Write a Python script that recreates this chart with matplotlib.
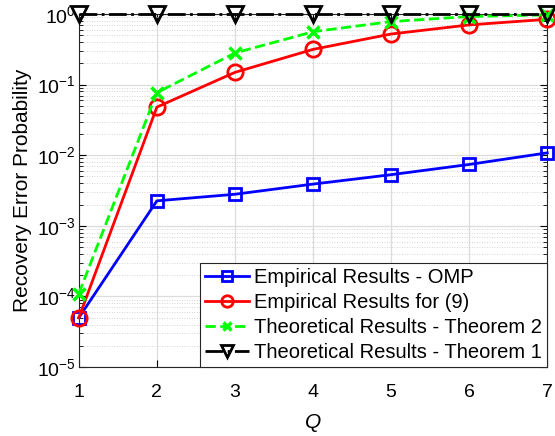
import numpy as np
import matplotlib
matplotlib.use("Agg")
import matplotlib.pyplot as plt
from matplotlib.ticker import LogLocator, FixedLocator

plt.rcParams['font.family'] = ['Liberation Sans', 'DejaVu Sans']
plt.rcParams['mathtext.fontset'] = 'custom'
plt.rcParams['mathtext.rm'] = 'Liberation Sans'
plt.rcParams['mathtext.it'] = 'Liberation Sans:italic'

Q = [1, 2, 3, 4, 5, 6, 7]
omp = [5.0e-5, 2.26e-3, 2.8e-3, 3.9e-3, 5.3e-3, 7.4e-3, 1.08e-2]
emp9 = [5.0e-5, 0.048, 0.149, 0.315, 0.52, 0.70, 0.84]
thm2 = [1.1e-4, 0.077, 0.28, 0.56, 0.78, 0.92, 0.97]
thm1 = [1, 1, 1, 1, 1, 1, 1]

fig = plt.figure(figsize=(5.55, 4.36), dpi=100)
ax = fig.add_axes([0.142, 0.158, 0.844, 0.810])

ax.semilogy(Q, omp, '-s', color='#0000ff', lw=2, ms=9, mfc='none', mew=2,
            label='Empirical Results - OMP', clip_on=False, zorder=3)
ax.semilogy(Q, emp9, '-o', color='#ff0000', lw=2, ms=11, mfc='none', mew=2,
            label='Empirical Results for (9)', clip_on=False, zorder=3)
ax.semilogy(Q, thm2, '--x', color='#00ff00', lw=2, ms=8, mew=2.5,
            label='Theoretical Results - Theorem 2', clip_on=False, zorder=3)
ax.semilogy(Q, thm1, '-.v', color='black', lw=2, ms=11, mfc='none', mew=2,
            label='Theoretical Results - Theorem 1', clip_on=False, zorder=3)

ax.set_xlim(1, 7)
ax.set_ylim(1e-5, 1)
ax.xaxis.set_major_locator(FixedLocator(Q))
ax.yaxis.set_major_locator(LogLocator(base=10, numticks=10))
ax.yaxis.set_minor_locator(LogLocator(base=10, subs=np.arange(2, 10), numticks=10))

ax.grid(True, which='major', color='#dcdcdc', lw=0.9, ls='-')
ax.grid(True, which='minor', color='#c8c8c8', lw=0.6, ls=(0, (1, 2)))
ax.set_axisbelow(True)

ax.tick_params(which='both', direction='in', top=True, right=True, labelsize=14)
ax.tick_params(axis='x', pad=12)
ax.tick_params(axis='y', pad=2)
ax.tick_params(which='major', length=5)
ax.tick_params(which='minor', length=3)
for s in ax.spines.values():
    s.set_color('#262626')
    s.set_linewidth(0.8)

ax.set_xlabel('$\\mathit{Q}$', fontsize=15, labelpad=8)
ax.set_ylabel('Recovery Error Probability', fontsize=15, labelpad=4)

leg = ax.legend(loc='lower right', fontsize=14.5, fancybox=False, framealpha=1,
                edgecolor='#262626', borderpad=0.25, labelspacing=0.3,
                handlelength=2.2, handletextpad=0.25, borderaxespad=0.0,
                markerscale=0.75)
leg.get_frame().set_linewidth(0.8)
leg.set_zorder(5)

fig.savefig('out.png', dpi=100)
